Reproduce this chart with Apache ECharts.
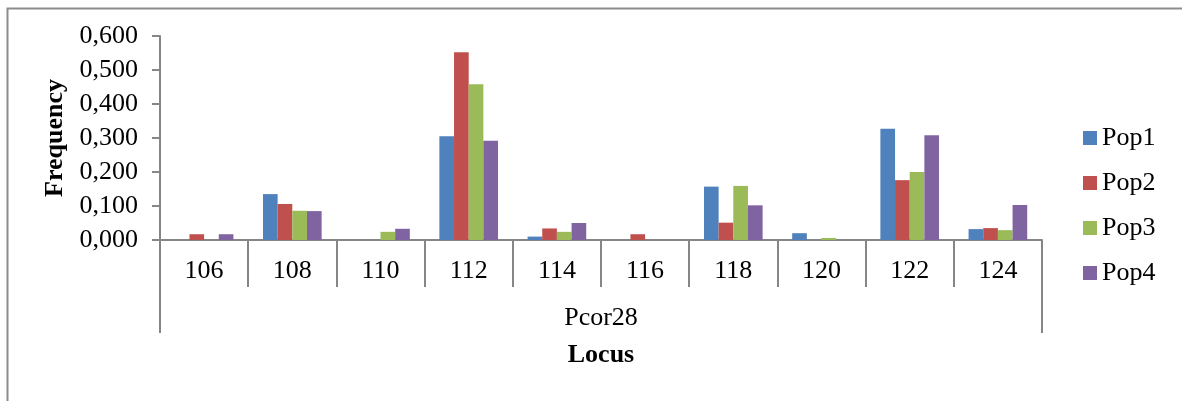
<!DOCTYPE html>
<html>
<head>
<meta charset="utf-8">
<script src="https://cdn.jsdelivr.net/npm/echarts@6/dist/echarts.min.js"></script>
<style>
  html, body { margin: 0; padding: 0; background: #fff; }
  #chart { width: 1182px; height: 401px; }
</style>
</head>
<body>
<div id="chart"></div>
<script>
// Allele sizes at locus Pcor28
const categories = ['106', '108', '110', '112', '114', '116', '118', '120', '122', '124'];
const locusLabels = ['Pcor28'];
const seriesNames = ['Pop1', 'Pop2', 'Pop3', 'Pop4'];

// Allele frequencies per population
const pop1 = [0, 0.135, 0, 0.305, 0.010, 0, 0.157, 0.020, 0.327, 0.032];
const pop2 = [0.017, 0.106, 0, 0.552, 0.034, 0.017, 0.051, 0, 0.176, 0.035];
const pop3 = [0, 0.086, 0.024, 0.458, 0.024, 0, 0.159, 0.006, 0.200, 0.029];
const pop4 = [0.017, 0.085, 0.033, 0.292, 0.050, 0, 0.102, 0, 0.308, 0.103];

const colors = ['#4F81BD', '#C0504D', '#9BBB59', '#8064A2'];
const serif = "'Liberation Serif', 'Times New Roman', serif";
const axisGray = '#868686';
const fontSize = 26;

const chart = echarts.init(document.getElementById('chart'), null, { renderer: 'canvas' });

const values = [pop1, pop2, pop3, pop4];

chart.setOption({
  animation: false,
  backgroundColor: '#ffffff',
  color: colors,
  textStyle: { fontFamily: serif, color: '#000' },
  graphic: [{
    type: 'rect',
    left: 5, top: 6,
    shape: { width: 1300, height: 500 },
    style: { fill: 'none', stroke: '#8c8c8c', lineWidth: 2 },
    silent: true
  }],
  grid: { left: 160, top: 36, width: 882, bottom: 161, containLabel: false },
  legend: {
    orient: 'vertical',
    left: 1078,
    top: 120,
    itemWidth: 14,
    itemHeight: 14,
    itemGap: 19,
    icon: 'rect',
    textStyle: { fontFamily: serif, fontSize: fontSize, color: '#000' },
    data: seriesNames
  },
  xAxis: [{
    type: 'category',
    data: categories,
    position: 'bottom',
    axisLine: { show: true, lineStyle: { color: axisGray, width: 2 } },
    axisTick: { show: true, interval: 0, length: 47, lineStyle: { color: axisGray, width: 2 } },
    axisLabel: { interval: 0, margin: 18, fontFamily: serif, fontSize: fontSize, color: '#000' },
    splitLine: { show: false }
  }, {
    type: 'category',
    data: locusLabels,
    position: 'bottom',
    offset: 0,
    axisLine: { show: false },
    axisTick: { show: true, length: 93, lineStyle: { color: axisGray, width: 2 } },
    axisLabel: { margin: 65, fontFamily: serif, fontSize: fontSize, color: '#000' },
    name: 'Locus',
    nameLocation: 'middle',
    nameGap: 102,
    nameTextStyle: { fontFamily: serif, fontSize: fontSize, fontWeight: 'bold', color: '#000' },
    splitLine: { show: false }
  }],
  yAxis: {
    type: 'value',
    min: 0,
    max: 0.6,
    interval: 0.1,
    name: 'Frequency',
    nameLocation: 'middle',
    nameGap: 90,
    nameRotate: 90,
    nameTextStyle: { fontFamily: serif, fontSize: fontSize, fontWeight: 'bold', color: '#000' },
    axisLine: { show: true, lineStyle: { color: axisGray, width: 2 } },
    axisTick: { show: true, length: 8, lineStyle: { color: axisGray, width: 2 } },
    axisLabel: {
      margin: 22,
      fontFamily: serif,
      fontSize: fontSize,
      color: '#000',
      formatter: v => v.toFixed(3).replace('.', ',')
    },
    splitLine: { show: false }
  },
  series: seriesNames.map((name, i) => ({
    name: name,
    type: 'bar',
    xAxisIndex: 0,
    data: values[i],
    barGap: '0%',
    barCategoryGap: '33.5%',
    itemStyle: { color: colors[i], borderWidth: 0 }
  }))
});
</script>
</body>
</html>
